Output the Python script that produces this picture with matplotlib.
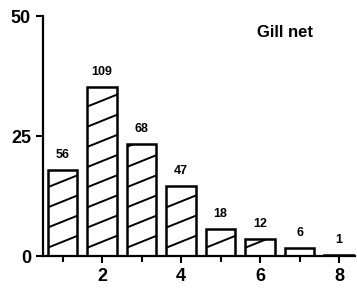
import matplotlib.pyplot as plt
from matplotlib.ticker import MultipleLocator

plt.rcParams['font.family'] = ['Liberation Sans', 'DejaVu Sans']

ages = [1, 2, 3, 4, 5, 6, 7, 8]
percent = [18.0, 35.2, 23.3, 14.6, 5.6, 3.5, 1.7, 0.3]
counts = ['56', '109', '68', '47', '18', '12', '6', '1']

fig = plt.figure(figsize=(3.57, 2.91), dpi=100)
ax = fig.add_axes([0.12, 0.12, 0.874, 0.825])
ax.set_xlim(0.5, 8.4)
ax.set_ylim(0, 50)

bars = ax.bar(ages, percent, width=0.74, color='white', linewidth=0, zorder=1)
ax.bar(ages, percent, width=0.74, fill=False, edgecolor='black',
       linewidth=1.8, zorder=3)

# shallow diagonal hatching, clipped to each bar
slope = 3.3     # y units per x unit
step = 4.2      # vertical spacing in y units
for b in bars:
    x0 = b.get_x()
    x1 = x0 + b.get_width()
    h = b.get_height()
    k = -slope * (x1 - x0)
    while k < h:
        ln, = ax.plot([x0, x1], [k, k + slope * (x1 - x0)], color='black',
                      lw=1.4, zorder=2)
        ln.set_clip_path(b)
        k += step

for b, c in zip(bars, counts):
    ax.text(b.get_x() + b.get_width() / 2, b.get_height() + 1.9, c,
            ha='center', va='bottom', fontsize=9, fontweight='bold')

ax.text(5.92, 45.6, 'Gill net', fontsize=12, fontweight='bold')

ax.set_yticks([0, 25, 50])
ax.set_xticks([2, 4, 6, 8])
ax.xaxis.set_minor_locator(MultipleLocator(1))
ax.spines['top'].set_visible(False)
ax.spines['right'].set_visible(False)
ax.spines['left'].set_linewidth(1.6)
ax.spines['bottom'].set_linewidth(1.6)
ax.tick_params(axis='both', which='major', labelsize=13, width=1.5, length=5)
ax.tick_params(axis='x', which='minor', width=1.5, length=4)
for lab in ax.get_xticklabels() + ax.get_yticklabels():
    lab.set_fontweight('bold')

fig.savefig('out.png', dpi=100)
